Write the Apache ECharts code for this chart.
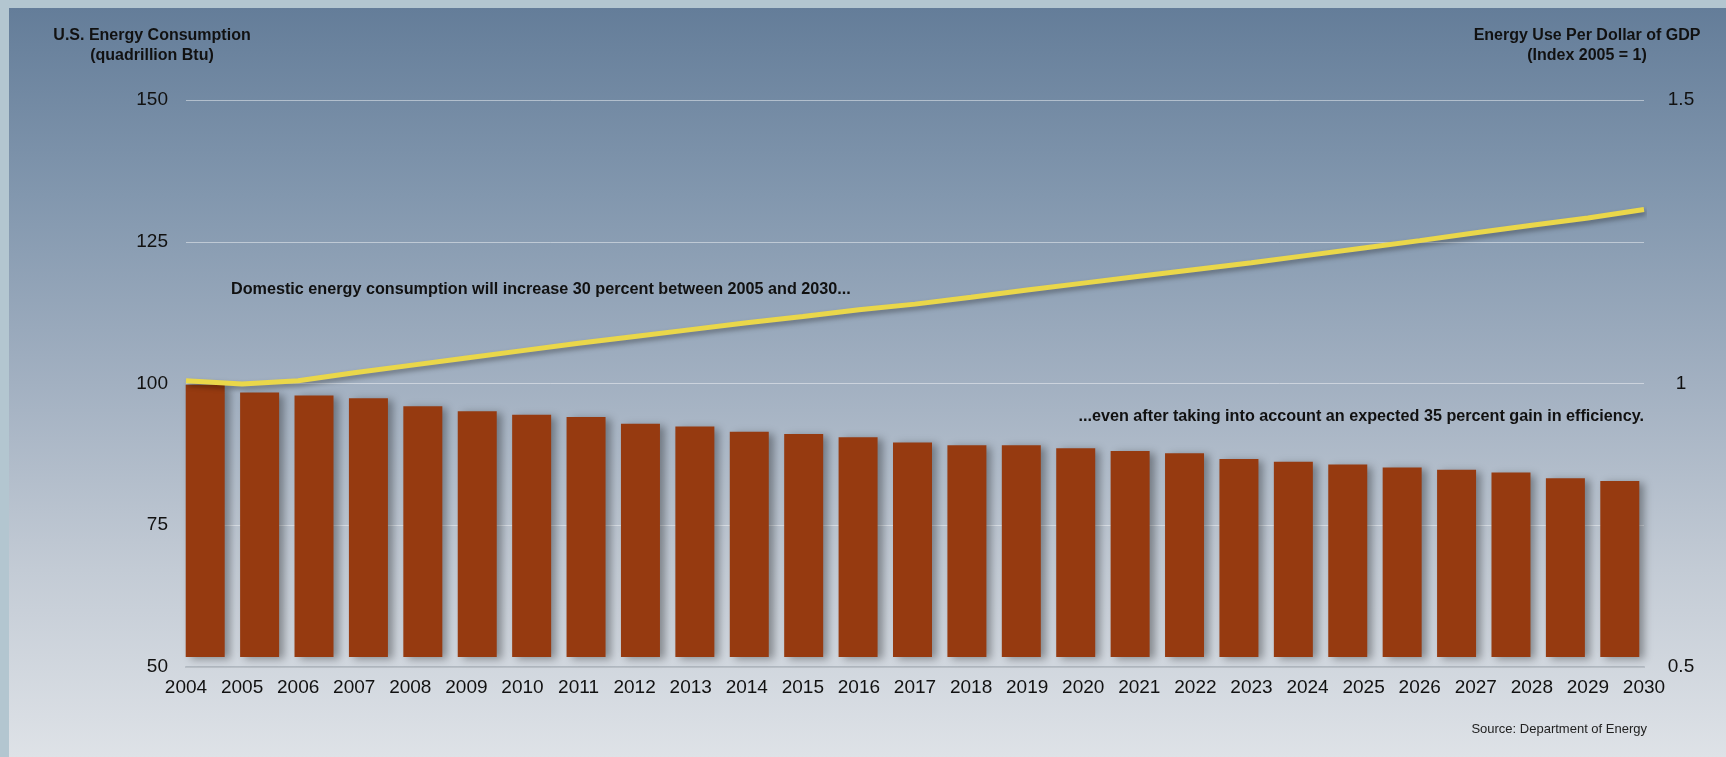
<!DOCTYPE html>
<html><head><meta charset="utf-8">
<script src="https://cdn.jsdelivr.net/npm/echarts@6/dist/echarts.min.js"></script>
<style>
html,body{margin:0;padding:0;width:1726px;height:757px;overflow:hidden;background:#B3C6D0;}
#bg{position:absolute;left:9px;top:8px;right:0;bottom:0;background:linear-gradient(to bottom,#647D99 0%,#8297AE 25%,#A2B0C1 50%,#C3CBD5 75%,#DEE2E7 100%);}
#chart{position:absolute;left:0;top:0;width:1726px;height:757px;}
</style></head><body><div id="bg"></div><div id="chart"></div>
<script>
// ---- data ----
const years = ['2004','2005','2006','2007','2008','2009','2010','2011','2012','2013','2014','2015','2016','2017','2018','2019','2020','2021','2022','2023','2024','2025','2026','2027','2028','2029','2030'];
// Energy use per dollar of GDP (index 2005 = 1) -> bars, right axis
const energyUsePerGDP = [0.998,0.984,0.979,0.974,0.960,0.951,0.945,0.941,0.929,0.924,0.915,0.911,0.905,0.896,0.891,0.891,0.886,0.881,0.877,0.867,0.862,0.857,0.852,0.848,0.843,0.833,0.828];
// U.S. energy consumption (quadrillion Btu) -> line, left axis
const consumption = [100.5,99.9,100.5,101.9,103.2,104.5,105.8,107.1,108.3,109.5,110.7,111.8,113.0,114.0,115.2,116.5,117.7,118.9,120.1,121.3,122.6,123.9,125.2,126.6,127.9,129.2,130.7];
const leftTicks = [50,75,100,125,150];
const rightTicks = [0.5,1,1.5];

const leftTitle = 'U.S. Energy Consumption\n(quadrillion Btu)';
const rightTitle = 'Energy Use Per Dollar of GDP\n(Index 2005 = 1)';
const note1 = 'Domestic energy consumption will increase 30 percent between 2005 and 2030...';
const note2 = '...even after taking into account an expected 35 percent gain in efficiency.';
const source = 'Source: Department of Energy';

// ---- layout ----
const FONT = "'Liberation Sans', Arial, Helvetica, sans-serif";
const plotTop = 100, plotBottomY = 667, barBaseY = 657;
const plotH = plotBottomY - plotTop;
const rMin = rightTicks[0], rMax = rightTicks[rightTicks.length-1];
const barAxisMin = rMax - (barBaseY - plotTop) / plotH * (rMax - rMin);

const chart = echarts.init(document.getElementById('chart'), null, {renderer:'canvas'});
chart.setOption({
  animation: false,
  backgroundColor: 'transparent',
  grid: [
    {left: 178, right: 79, top: plotTop, bottom: 757 - barBaseY},
    {left: 186, right: 82, top: plotTop, bottom: 757 - plotBottomY}
  ],
  xAxis: [
    {gridIndex: 0, type: 'category', data: years, boundaryGap: true, show: false},
    {gridIndex: 1, type: 'category', data: years, boundaryGap: false,
     axisLine: {show: true, lineStyle: {color: 'rgba(150,158,168,0.55)', width: 2}},
     axisTick: {show: false},
     splitLine: {show: false},
     axisLabel: {interval: 0, color: '#111', fontSize: 19, fontFamily: FONT, margin: 11}}
  ],
  yAxis: [
    {gridIndex: 0, type: 'value', min: barAxisMin, max: rMax, show: false},
    {gridIndex: 1, type: 'value', position: 'left', min: leftTicks[0], max: leftTicks[leftTicks.length-1], interval: leftTicks[1]-leftTicks[0],
     axisLine: {show: false}, axisTick: {show: false},
     axisLabel: {color: '#111', fontSize: 19, fontFamily: FONT, margin: 18},
     splitLine: {show: true, lineStyle: {color: 'rgba(255,255,255,0.45)', width: 1}}},
    {gridIndex: 1, type: 'value', position: 'right', min: rMin, max: rMax, interval: rightTicks[1]-rightTicks[0],
     axisLine: {show: false}, axisTick: {show: false}, splitLine: {show: false},
     axisLabel: {color: '#111', fontSize: 19, fontFamily: FONT, margin: 37, align: 'center'}}
  ],
  series: [
    {type: 'bar', xAxisIndex: 0, yAxisIndex: 0, data: energyUsePerGDP, barWidth: 39, z: 2,
     itemStyle: {color: '#963A10', shadowColor: 'rgba(0,0,0,0.35)', shadowBlur: 8, shadowOffsetX: 5, shadowOffsetY: 2}},
    {type: 'line', xAxisIndex: 1, yAxisIndex: 1, data: consumption, symbol: 'none', z: 4,
     lineStyle: {color: '#EAD74A', width: 5, shadowColor: 'rgba(0,0,0,0.35)', shadowBlur: 5, shadowOffsetX: 2, shadowOffsetY: 3}}
  ],
  graphic: [
    {type: 'text', x: 152, y: 26, style: {text: leftTitle, fill: '#111', font: 'bold 16px ' + FONT, align: 'center', verticalAlign: 'top', lineHeight: 20}},
    {type: 'text', x: 1587, y: 26, style: {text: rightTitle, fill: '#111', font: 'bold 16px ' + FONT, align: 'center', verticalAlign: 'top', lineHeight: 20}},
    {type: 'text', x: 231, y: 290, style: {text: note1, fill: '#111', font: 'bold 16.2px ' + FONT, align: 'left', verticalAlign: 'middle'}},
    {type: 'text', x: 1644, y: 417, style: {text: note2, fill: '#111', font: 'bold 16.2px ' + FONT, align: 'right', verticalAlign: 'middle'}},
    {type: 'text', x: 1647, y: 729, style: {text: source, fill: '#222', font: '13px ' + FONT, align: 'right', verticalAlign: 'middle'}}
  ]
});
</script>
</body></html>
